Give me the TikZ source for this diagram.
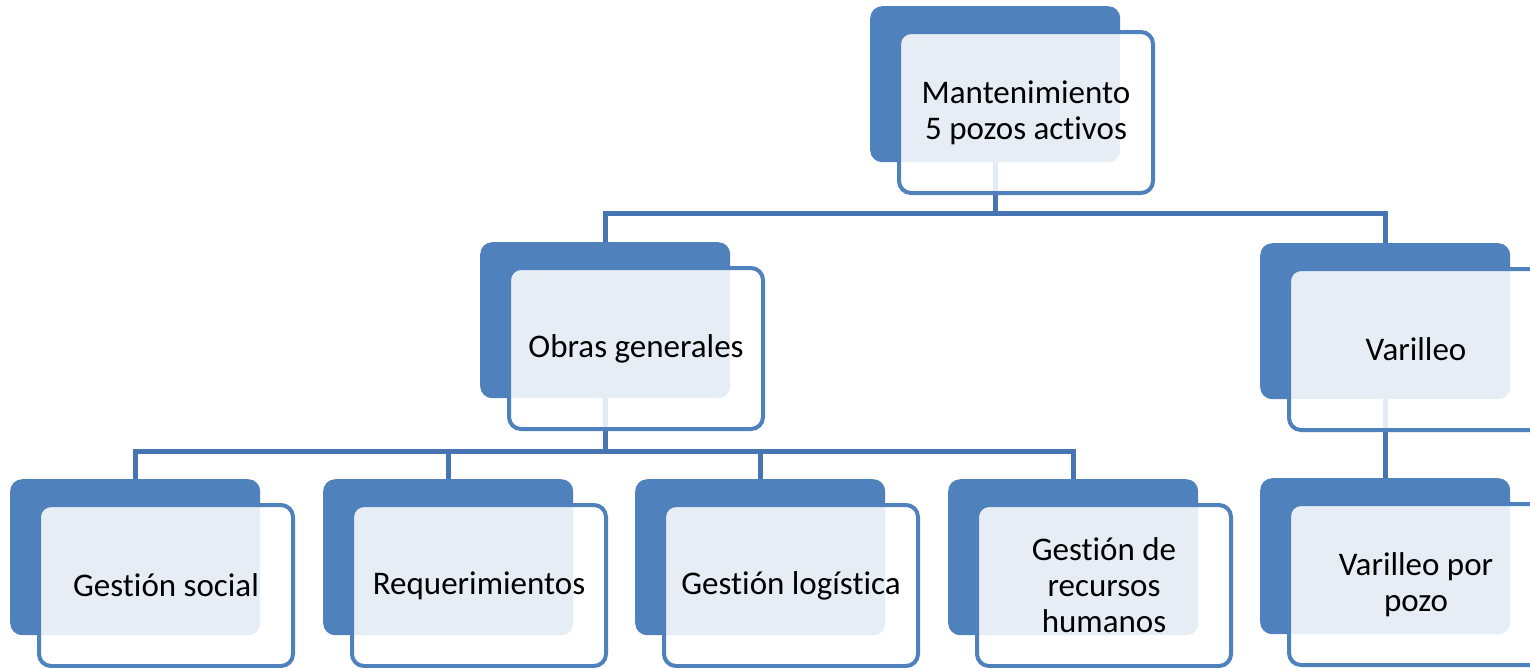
\documentclass[tikz,border=0pt]{standalone}
\usepackage{fontspec}
\setmainfont{Carlito}[Ligatures=NoCommon]
\usetikzlibrary{backgrounds}
\definecolor{accent}{RGB}{79,129,189}
\definecolor{linkblue}{RGB}{71,117,178}
\tikzset{
  backbox/.style={rectangle, rounded corners=12pt, fill=accent, draw=none,
    minimum width=250pt, minimum height=156pt, inner sep=0pt, anchor=north west},
  frontbox/.style={rectangle, rounded corners=12pt, draw=accent, line width=4pt,
    fill=white, fill opacity=0.86, text opacity=1, draw opacity=1,
    minimum width=254pt, minimum height=161pt, inner sep=0pt, anchor=north west,
    align=center, font=\fontsize{33}{36}\selectfont},
  conn/.style={draw=linkblue, line width=5pt},
}
% one unit of the chart: solid blue card behind, outlined card with the label in front
\newcommand{\orgunit}[4]{%
  \node[backbox] (#1b) at (#2,#3) {};
  \node[frontbox] (#1) at (#2+27,#3+24) {#4};
}
\begin{document}
\begin{tikzpicture}[x=1pt,y=-1pt]
  \useasboundingbox (0,0) rectangle (1530,667);
  \clip (0,0) rectangle (1530,667);

  \orgunit{top}{870}{6}{Mantenimiento\\5 pozos activos}
  \orgunit{obras}{480}{242}{Obras generales}
  \orgunit{var}{1260}{243}{Varilleo}
  \orgunit{soc}{10}{479}{Gestión social}
  \orgunit{req}{323}{479}{Requerimientos}
  \orgunit{log}{635}{479}{Gestión logística}
  \orgunit{rrhh}{948}{479}{Gestión de\\recursos\\humanos}
  \orgunit{vpp}{1260}{478}{Varilleo por\\pozo}

  \coordinate (busA) at (0,213);
  \coordinate (busB) at (0,451);

  \begin{scope}[on background layer]
    \fill[white] (0,0) rectangle (1530,667);
    \draw[conn] (topb.south) -- (topb.south |- busA) -| (obrasb.north);
    \draw[conn] (topb.south |- busA) -| (varb.north);
    \draw[conn] (obrasb.south) -- (obrasb.south |- busB) -| (socb.north);
    \draw[conn] (obrasb.south |- busB) -| (reqb.north);
    \draw[conn] (obrasb.south |- busB) -| (logb.north);
    \draw[conn] (obrasb.south |- busB) -| (rrhhb.north);
    \draw[conn] (varb.south) -- (vppb.north);
  \end{scope}
\end{tikzpicture}
\end{document}
